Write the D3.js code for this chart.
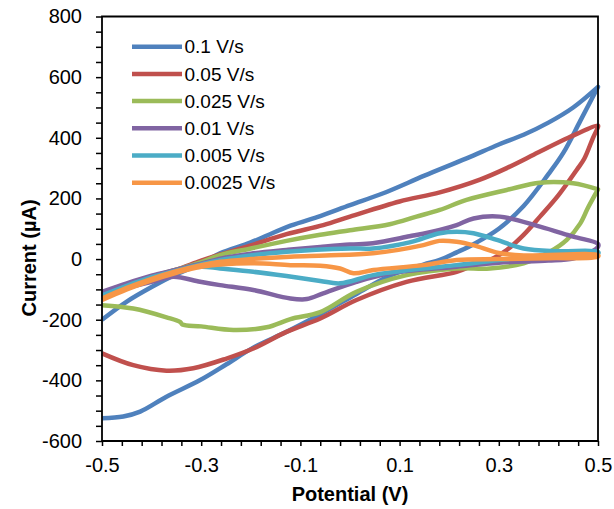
<!DOCTYPE html>
<html>
<head>
<meta charset="utf-8">
<script src="https://cdn.jsdelivr.net/npm/d3@7"></script>
<style>
  body { margin: 0; background: #fff; }
  svg text { font-family: "Liberation Sans", Arial, sans-serif; fill: #000; }
</style>
</head>
<body>
<svg id="cv" width="614" height="509"></svg>
<script>
// Scan rates, one loop each. Points are [potential (V), current (µA)].
// fwd = anodic sweep -0.5 -> 0.5, rev = cathodic sweep back to -0.5
const scanRates = ['0.1 V/s', '0.05 V/s', '0.025 V/s', '0.01 V/s', '0.005 V/s', '0.0025 V/s'];

const fwd100 = [[-0.5,-200],[-0.45,-140],[-0.4,-92],[-0.35,-50],[-0.3,-15],[-0.262,19],[-0.2,55],[-0.12,110],[-0.06,142],[0,178],[0.067,217],[0.15,275],[0.235,332],[0.3,378],[0.35,410],[0.4,450],[0.45,500],[0.5,568]];
const rev100 = [[0.5,568],[0.464,455],[0.43,350],[0.4,280],[0.35,175],[0.3,100],[0.25,50],[0.215,22],[0.181,-3],[0.148,-18],[0.08,-55],[0.013,-115],[-0.06,-182],[-0.128,-240],[-0.195,-292],[-0.249,-347],[-0.302,-399],[-0.37,-454],[-0.423,-503],[-0.457,-519],[-0.5,-525]];

const fwd050 = [[-0.5,-125],[-0.45,-90],[-0.4,-60],[-0.35,-35],[-0.3,-5],[-0.262,15],[-0.2,45],[-0.128,82],[-0.054,112],[0,140],[0.1,190],[0.181,220],[0.262,262],[0.316,300],[0.38,352],[0.44,400],[0.5,440]];
const rev050 = [[0.5,436],[0.49,400],[0.472,330],[0.457,294],[0.42,210],[0.383,140],[0.35,80],[0.316,30],[0.282,-3],[0.25,-20],[0.215,-42],[0.114,-75],[0.013,-135],[-0.06,-196],[-0.128,-240],[-0.195,-295],[-0.249,-328],[-0.316,-360],[-0.37,-368],[-0.437,-350],[-0.5,-311]];

const fwd025 = [[-0.5,-115],[-0.45,-85],[-0.4,-58],[-0.35,-35],[-0.3,-10],[-0.262,13],[-0.2,35],[-0.128,60],[-0.06,80],[0,95],[0.08,115],[0.134,140],[0.181,162],[0.235,195],[0.316,228],[0.383,252],[0.45,250],[0.5,230]];
const rev025 = [[0.5,230],[0.48,170],[0.464,117],[0.437,63],[0.403,24],[0.35,-14],[0.282,-31],[0.215,-31],[0.114,-53],[0.013,-108],[-0.06,-175],[-0.12,-198],[-0.168,-225],[-0.235,-234],[-0.3,-222],[-0.338,-216],[-0.342,-208],[-0.37,-192],[-0.437,-163],[-0.5,-152]];

const fwd010 = [[-0.5,-108],[-0.45,-80],[-0.4,-55],[-0.35,-35],[-0.3,-15],[-0.25,5],[-0.2,18],[-0.128,30],[-0.06,40],[0,48],[0.046,52],[0.12,75],[0.181,96],[0.215,112],[0.249,134],[0.302,140],[0.383,107],[0.45,74],[0.5,50]];
const rev010 = [[0.5,40],[0.475,15],[0.45,2],[0.4,-5],[0.3,-12],[0.215,-25],[0.081,-47],[0.013,-75],[-0.054,-113],[-0.087,-132],[-0.12,-130],[-0.195,-102],[-0.262,-86],[-0.302,-75],[-0.356,-58],[-0.4,-75],[-0.45,-95],[-0.5,-115]];

const fwd005 = [[-0.5,-120],[-0.45,-88],[-0.4,-60],[-0.35,-38],[-0.3,-18],[-0.25,0],[-0.128,24],[0,35],[0.046,35],[0.12,55],[0.181,85],[0.215,90],[0.249,85],[0.296,63],[0.35,35],[0.417,26],[0.5,24]];
const rev005 = [[0.5,18],[0.4,10],[0.3,-3],[0.215,-20],[0.148,-31],[0.047,-53],[-0.02,-80],[-0.06,-72],[-0.128,-56],[-0.195,-42],[-0.262,-31],[-0.3,-25],[-0.35,-38],[-0.4,-62],[-0.45,-92],[-0.5,-125]];

const fwd0025 = [[-0.5,-130],[-0.45,-95],[-0.4,-65],[-0.35,-40],[-0.3,-20],[-0.262,-9],[-0.2,0],[-0.12,8],[-0.05,12],[0.046,19],[0.148,46],[0.18,60],[0.215,57],[0.25,45],[0.3,20],[0.35,12],[0.5,13]];
const rev0025 = [[0.5,8],[0.4,3],[0.3,0],[0.215,-3],[0.148,-20],[0.047,-36],[0.007,-47],[-0.02,-31],[-0.06,-22],[-0.12,-20],[-0.2,-14],[-0.3,-25],[-0.35,-45],[-0.4,-70],[-0.45,-100],[-0.5,-135]];

const loops = [
  fwd100.concat(rev100), fwd050.concat(rev050), fwd025.concat(rev025),
  fwd010.concat(rev010), fwd005.concat(rev005), fwd0025.concat(rev0025)
];
const colors = ['#4F81BD', '#C0504D', '#9BBB59', '#8064A2', '#4BACC6', '#F79646'];

const L = 102, R = 598, T = 16.5, B = 441;
const x = d3.scaleLinear().domain([-0.5, 0.5]).range([L, R]);
const y = d3.scaleLinear().domain([-600, 800]).range([B, T]);

const svg = d3.select('#cv');

// curves, first series at the bottom
const line = d3.line().x(d => x(d[0])).y(d => y(d[1])).curve(d3.curveCatmullRom.alpha(0.5));
svg.append('g').selectAll('path').data(loops).join('path')
  .attr('d', line)
  .attr('fill', 'none')
  .attr('stroke', (d, i) => colors[i])
  .attr('stroke-width', 4.5)
  .attr('stroke-linejoin', 'round');

// axes: minor ticks every 50 µA / 0.04 V, labels on the majors
const yTicks = d3.range(-600, 801, 50);
const yAx = svg.append('g').attr('transform', `translate(${L},0)`)
  .call(d3.axisLeft(y).tickValues(yTicks).tickSize(6).tickPadding(14)
    .tickFormat(d => d % 200 === 0 ? String(d) : ''));
yAx.select('.domain').remove();
yAx.selectAll('line').attr('stroke', '#000').attr('stroke-width', 1.5);
yAx.selectAll('text').attr('font-size', 20).attr('font-family', '"Liberation Sans", Arial, sans-serif');

const xTicks = d3.range(0, 26).map(i => +(-0.5 + i * 0.04).toFixed(2));
const xAx = svg.append('g').attr('transform', `translate(0,${B})`)
  .call(d3.axisBottom(x).tickValues(xTicks).tickSize(5).tickPadding(12)
    .tickFormat((d, i) => i % 5 === 0 ? d.toFixed(1) : ''));
xAx.select('.domain').remove();
xAx.selectAll('line').attr('stroke', '#000').attr('stroke-width', 1.5);
xAx.selectAll('text').attr('font-size', 20).attr('font-family', '"Liberation Sans", Arial, sans-serif');

// frame
svg.append('path')
  .attr('d', `M${L},${T}H${R}V${B}H${L}Z`)
  .attr('fill', 'none').attr('stroke', '#000').attr('stroke-width', 1.8);

// titles
svg.append('text')
  .attr('transform', `translate(36,258) rotate(-90)`)
  .attr('text-anchor', 'middle').attr('font-size', 20).attr('font-weight', 'bold')
  .text('Current (µA)');
svg.append('text')
  .attr('x', 350).attr('y', 501)
  .attr('text-anchor', 'middle').attr('font-size', 20).attr('font-weight', 'bold')
  .text('Potential (V)');

// legend
const leg = svg.append('g').selectAll('g').data(scanRates).join('g')
  .attr('transform', (d, i) => `translate(132,${46.7 + i * 27.2})`);
leg.append('line').attr('x1', 0).attr('x2', 50)
  .attr('stroke', (d, i) => colors[i]).attr('stroke-width', 4.5);
leg.append('text').attr('x', 52.5).attr('dy', '0.35em').attr('font-size', 19)
  .text(d => d);
</script>
</body>
</html>
